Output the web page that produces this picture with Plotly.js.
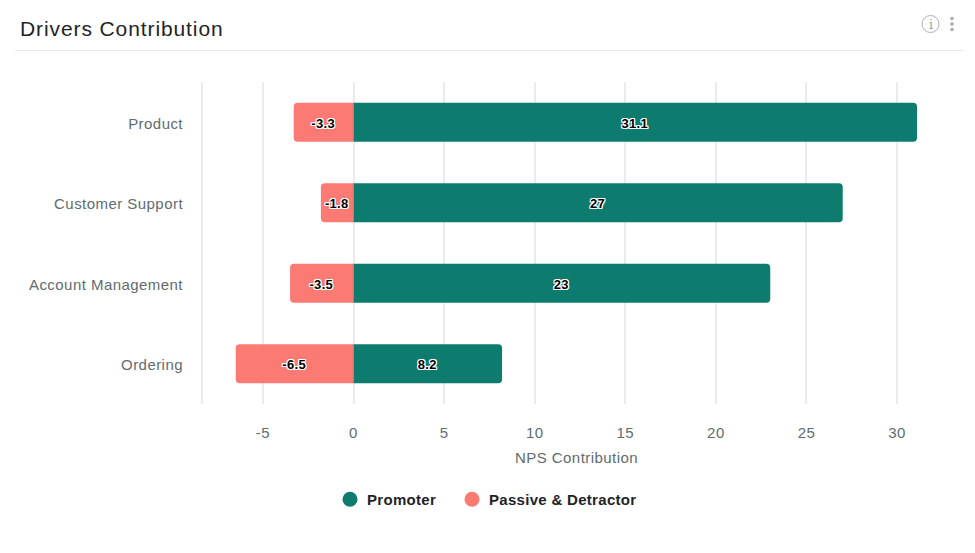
<!DOCTYPE html>
<html>
<head>
<meta charset="utf-8">
<script src="https://cdn.plot.ly/plotly-3.0.1.min.js"></script>
<style>
html,body{margin:0;padding:0;background:#fff}
#chart{width:975px;height:553px}
#chart .xtick text,#chart .ytick text,#chart .xtitle{letter-spacing:.45px}
#chart .gtitle{letter-spacing:.9px}
#chart .legendtext{letter-spacing:.3px;translate:-3px 0}
#chart .legend .scrollbox{clip-path:none}
#chart .bartext{letter-spacing:.3px;translate:-.5px 1px}
</style>
</head>
<body>
<div id="chart"></div>
<script>
const categories = ["Product", "Customer Support", "Account Management", "Ordering"];
const promoter = [31.1, 27, 23, 8.2];
const passiveDetractor = [-3.3, -1.8, -3.5, -6.5];
const promoterName = "Promoter";
const detractorName = "Passive & Detractor";
const tickValues = [-5, 0, 5, 10, 15, 20, 25, 30];
const GREEN = "#0d7c6f", RED = "#fb7a74";
const FONT = "Liberation Sans, Arial, sans-serif";
const halo = "1px 0 0 #fff, -1px 0 0 #fff, 0 1px 0 #fff, 0 -1px 0 #fff, 1px 1px 0 #fff, -1px -1px 0 #fff, 1px -1px 0 #fff, -1px 1px 0 #fff";
const labelFont = {family: FONT, size: 13, color: "#000", weight: 700, shadow: halo};

const L = 203, T = 82, W = 747, H = 322;
const px = v => (v - L) / W;
const py = v => (T + H - v) / H;

function barTrace(vals, name, color) {
  return {
    type: "bar", orientation: "h", x: vals, y: categories, name: name, showlegend: false,
    marker: {color: color, line: {width: 0}},
    text: vals.map(String), textposition: "inside", insidetextanchor: "middle",
    constraintext: "none", textangle: 0, textfont: labelFont, cliponaxis: false, hoverinfo: "x+y+name"
  };
}
function legendTrace(name, color) {
  return {type: "scatter", mode: "markers", x: [null], y: [null], name: name,
    marker: {color: color, size: 15, symbol: "circle"}};
}

const traces = [
  barTrace(passiveDetractor, detractorName, RED),
  barTrace(promoter, promoterName, GREEN),
  legendTrace(promoterName, GREEN),
  legendTrace(detractorName, RED)
];

function dot(cx, cy, r, color) {
  return {type: "circle", xref: "paper", yref: "paper", x0: px(cx - r), x1: px(cx + r), y0: py(cy + r), y1: py(cy - r),
    fillcolor: color, line: {width: 0}};
}

const layout = {
  width: 975, height: 553, paper_bgcolor: "#fff", plot_bgcolor: "#fff",
  font: {family: FONT, color: "#5f6b70", size: 15},
  margin: {l: L, r: 975 - L - W, t: T, b: 553 - T - H, pad: 0},
  barmode: "relative", bargap: 0.515, barcornerradius: 4,
  title: {text: "Drivers Contribution", x: 20 / 975, xanchor: "left", xref: "container",
    y: 1 - 29 / 553, yanchor: "middle", yref: "container", font: {family: FONT, size: 21, color: "#1f2328"}},
  xaxis: {
    range: [-8.306, 32.92], tickmode: "array", tickvals: tickValues, ticktext: tickValues.map(String),
    showgrid: true, gridcolor: "#ebebeb", gridwidth: 1.5, zeroline: false, showline: false, ticks: "",
    ticklabelstandoff: 18, tickfont: {size: 15, color: "#5f6b70"},
    title: {text: "NPS Contribution", standoff: 12, font: {size: 15, color: "#5f6b70"}}
  },
  yaxis: {
    type: "category", categoryorder: "array", categoryarray: categories, autorange: "reversed",
    showgrid: false, zeroline: false, showline: true, linecolor: "#ebebeb", linewidth: 2, ticks: "",
    ticklabelstandoff: 15, ticklabelshift: -1, tickfont: {size: 15, color: "#5f6b70"}
  },
  legend: {orientation: "h", x: px(342 - 12), xref: "paper", xanchor: "left", y: py(483), yanchor: "top",
    font: {family: FONT, size: 15, color: "#1f2328", weight: 700}, itemsizing: "trace", itemclick: false,
    entrywidth: 77, entrywidthmode: "pixels"},
  shapes: [
    {type: "line", xref: "paper", yref: "paper", x0: px(15), x1: px(963), y0: py(50.5), y1: py(50.5),
      line: {color: "#e8e8e8", width: 1}},
    {type: "circle", xref: "paper", yref: "paper", x0: px(922), x1: px(939), y0: py(32.5), y1: py(15.5),
      line: {color: "#b0b0b0", width: 1}},
    dot(952, 18.5, 1.8, "#a8a8a8"), dot(952, 24, 1.8, "#a8a8a8"), dot(952, 29.5, 1.8, "#a8a8a8")
  ],
  annotations: [
    {text: "i", xref: "paper", yref: "paper", x: px(930.5), y: py(24), showarrow: false,
      xanchor: "center", yanchor: "middle", font: {family: "DejaVu Serif, serif", size: 13, color: "#a0a0a0"}}
  ]
};

Plotly.newPlot("chart", traces, layout, {displayModeBar: false, responsive: false});
</script>
</body>
</html>
